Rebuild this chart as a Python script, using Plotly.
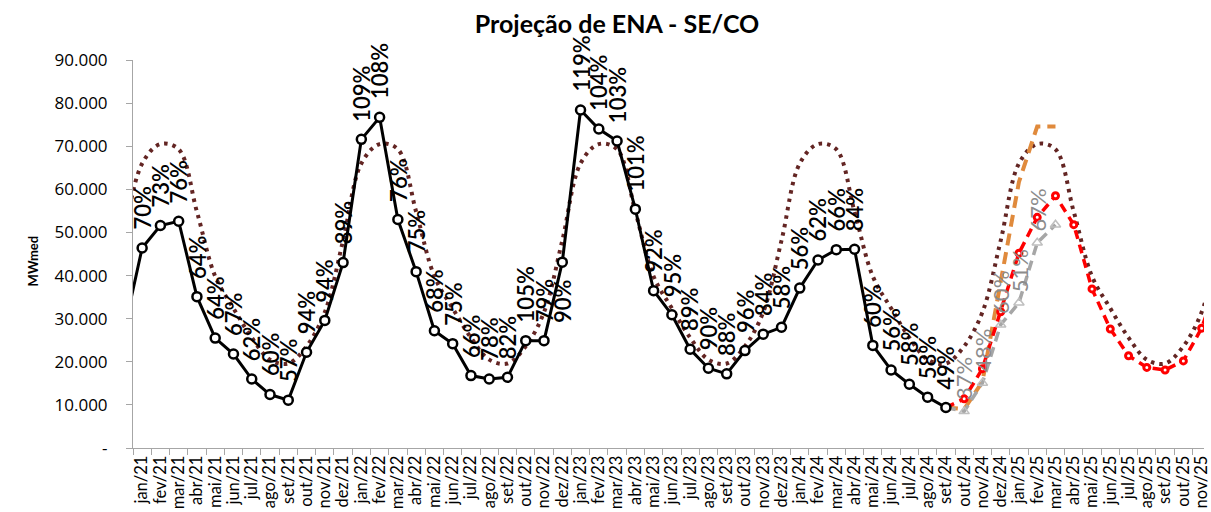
import plotly.graph_objects as go

# ---------------- data ----------------
month_abbr = ["jan", "fev", "mar", "abr", "mai", "jun", "jul", "ago", "set", "out", "nov", "dez"]
years = ["21", "22", "23", "24", "25"]
months = ["dez/20"] + [f"{m}/{y}" for y in years for m in month_abbr]

# MLT (long-term average), MWmed, dez/20 .. dez/25
mlt = [48100,
       66000, 70500, 69300, 54800, 39800, 32400, 25600, 20500, 19600, 23600, 31500, 48100,
       66000, 70500, 69300, 54800, 39800, 32400, 25600, 20500, 19600, 23600, 31500, 48100,
       66000, 70500, 69300, 54800, 39800, 32400, 25600, 20500, 19600, 23600, 31500, 48100,
       66000, 70500, 69300, 54800, 39800, 32400, 25600, 20500, 19600, 23600, 31500, 48100,
       66000, 70500, 69300, 54800, 39800, 32400, 25600, 20500, 19600, 23600, 31500, 48100]

# verified ENA, dez/20 .. set/24
ena_months = months[0:46]
ena = [27000,
       46400, 51600, 52600, 35100, 25500, 21800, 16000, 12400, 11100, 22200, 29600, 43000,
       71600, 76700, 53000, 40900, 27200, 24200, 16800, 16000, 16400, 24900, 24900, 43100,
       78400, 74000, 71200, 55400, 36500, 30900, 22900, 18500, 17200, 22600, 26400, 28000,
       37100, 43600, 46000, 46100, 23800, 18100, 14800, 11800, 9400]
ena_pct_months = months[1:46]
ena_pct = [70, 73, 76, 64, 64, 67, 62, 60, 57, 94, 94, 89,
           109, 108, 76, 75, 68, 75, 66, 78, 82, 105, 79, 90,
           119, 104, 103, 101, 92, 95, 89, 90, 88, 96, 84, 58,
           56, 62, 66, 84, 60, 56, 58, 58, 49]
labels_below = ["dez/22"]

# forecast (red), set/24 .. dez/25
prev_months = months[45:61]
prev = [9400, 11400, 18400, 31600, 45200, 53500, 58500, 51800, 36900, 27600,
        21400, 18700, 18100, 20200, 27800, 40000]

# gray scenario, set/24 .. mar/25
gray_months = months[45:52]
gray = [9400, 8500, 15100, 28600, 33700, 47600, 51800]
gray_pct_months = months[46:51]
gray_pct = [37, 48, 60, 51, 67]

# orange scenario, set/24 .. mar/25
orange_months = months[45:52]
orange = [9400, 9000, 15400, 38800, 61700, 74600, 74600]

y_tickvals = [0, 10000, 20000, 30000, 40000, 50000, 60000, 70000, 80000, 90000]
y_ticktext = ["-", "10.000", "20.000", "30.000", "40.000", "50.000", "60.000", "70.000", "80.000", "90.000"]

# ---------------- figure ----------------
FONT = "Lato"
fig = go.Figure()

fig.add_trace(go.Scatter(x=months, y=mlt, mode="lines",
                         line=dict(color="#632523", width=4, dash="3.5px,5px", shape="spline", smoothing=1.0),
                         showlegend=False))
fig.add_trace(go.Scatter(x=orange_months, y=orange, mode="lines",
                         line=dict(color="#E08A3C", width=4, dash="12px,7px"),
                         showlegend=False))
fig.add_trace(go.Scatter(x=gray_months, y=gray, mode="lines+markers",
                         line=dict(color="#A6A6A6", width=3.5, dash="10px,6px"),
                         marker=dict(symbol="triangle-up-open", size=9, color="#BFBFBF", line=dict(width=1.5)),
                         showlegend=False))
fig.add_trace(go.Scatter(x=prev_months, y=prev, mode="lines+markers",
                         line=dict(color="#FF0000", width=3.5, dash="9px,6px"),
                         marker=dict(symbol="circle", size=6, color="white", line=dict(color="#FF0000", width=3)),
                         showlegend=False))
fig.add_trace(go.Scatter(x=ena_months, y=ena, mode="lines+markers",
                         line=dict(color="black", width=3),
                         marker=dict(symbol="circle", size=9, color="white", line=dict(color="black", width=2.5)),
                         showlegend=False))

annotations = []
ena_lookup = dict(zip(ena_months, ena))
for m, p in zip(ena_pct_months, ena_pct):
    below = m in labels_below
    annotations.append(dict(x=m, y=ena_lookup[m], xref="x", yref="y", text=f"{p}%",
                            showarrow=False, textangle=-90,
                            yanchor="top" if below else "bottom",
                            yshift=-16 if below else 16,
                            font=dict(family=FONT, size=22, color="black", weight=600)))
gray_lookup = dict(zip(gray_months, gray))
for m, p in zip(gray_pct_months, gray_pct):
    annotations.append(dict(x=m, y=gray_lookup[m], xref="x", yref="y", text=f"{p}%",
                            showarrow=False, textangle=-90, yanchor="bottom", yshift=9,
                            font=dict(family=FONT, size=22, color="#8C8C8C")))
annotations.append(dict(x=-0.093, y=0.482, xref="paper", yref="paper", text="<b>MWmed</b>",
                        showarrow=False, textangle=-90, xanchor="center", yanchor="middle",
                        font=dict(family=FONT, size=13, color="black")))

fig.update_layout(
    width=1211, height=512,
    margin=dict(l=133, r=0, t=60, b=64),
    paper_bgcolor="white", plot_bgcolor="white",
    title=dict(text="<b>Projeção de ENA - SE/CO</b>", x=0.5095, xref="container", xanchor="center",
               y=0.953, yref="container", yanchor="middle",
               font=dict(family=FONT, size=25, color="black")),
    annotations=annotations,
    showlegend=False,
)
fig.update_xaxes(type="category", categoryorder="array", categoryarray=months,
                 range=[0.5, 59.13], tickmode="linear", tick0=0, dtick=1,
                 tickson="boundaries", ticks="outside", ticklen=6, tickcolor="#A6A6A6",
                 showline=True, linecolor="#A6A6A6", linewidth=1, showgrid=False,
                 tickangle=-90, tickfont=dict(family=FONT, size=16.5, color="black"))
fig.update_yaxes(range=[0, 90000], tickmode="array", tickvals=y_tickvals, ticktext=y_ticktext,
                 ticks="outside", ticklen=6, tickcolor="#A6A6A6",
                 showline=True, linecolor="#A6A6A6", linewidth=1, showgrid=False, zeroline=False,
                 ticklabelstandoff=15,
                 tickfont=dict(family="Open Sans", size=17, color="black"))

fig.write_html("out.html", config={"displayModeBar": False},
               post_script="document.body.style.margin='0';document.body.style.overflow='hidden';")
